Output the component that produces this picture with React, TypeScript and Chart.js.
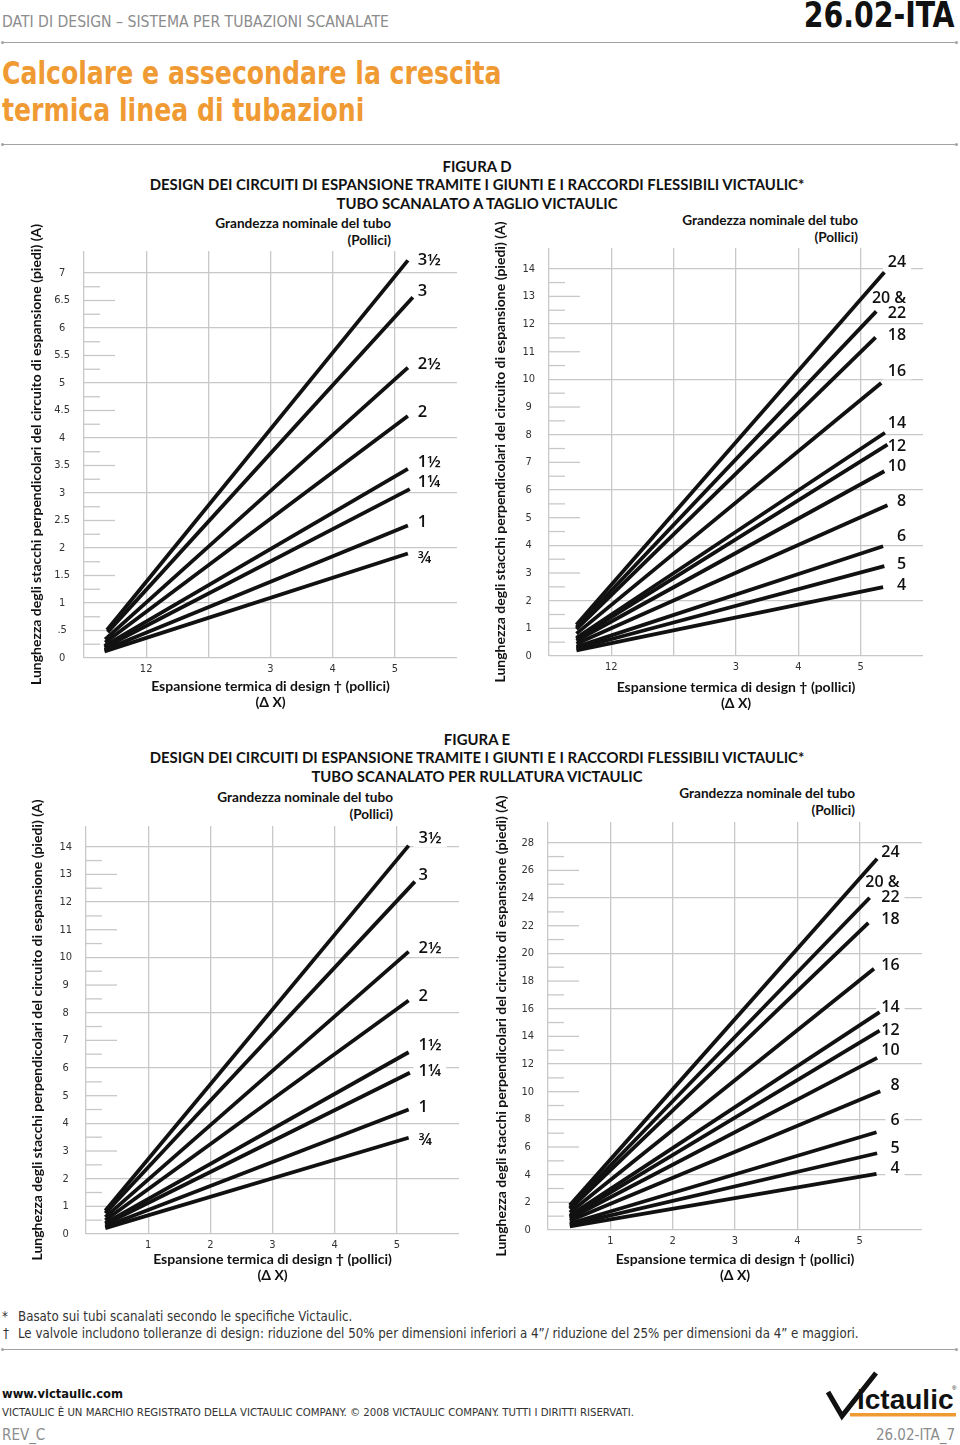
import React, { useEffect, useRef } from "react";
import { Chart, registerables } from "chart.js";

Chart.register(...registerables);

const HUM = "Lato, 'Open Sans', 'Noto Sans', sans-serif";
const LAB = "'Open Sans', Lato, 'Noto Sans', sans-serif";
const COND = "'Liberation Sans Narrow', 'Arial Narrow', 'DejaVu Sans Condensed', sans-serif";
const GRID = "#c8c8c8";
const ORANGE = "#F09A33";

// ---------- FIGURA D, left: sizes up to 3½" ----------
const sizesDL = ["3½", "3", "2½", "2", "1½", "1¼", "1", "¾"];
const startXDL = [0.37, 0.38, 0.34, 0.34, 0.33, 0.33, 0.33, 0.33];
const startYDL = [0.51, 0.47, 0.34, 0.28, 0.22, 0.19, 0.15, 0.12];
const endXDL = [5.21, 5.29, 5.21, 5.21, 5.21, 5.24, 5.21, 5.21];
const endYDL = [7.23, 6.56, 5.28, 4.4, 3.44, 3.07, 2.41, 1.9];
const yTicksDL = ["0", ".5", "1", "1.5", "2", "2.5", "3", "3.5", "4", "4.5", "5", "5.5", "6", "6.5", "7"];
const xTicksD = ["", "12", "", "3", "4", "5", ""];

// ---------- FIGURA D, right: sizes 4" to 24" ----------
const sizesDR = ["24", "20 &\n22", "18", "16", "14", "12", "10", "8", "6", "5", "4"];
const startXDR = [0.44, 0.44, 0.44, 0.44, 0.44, 0.44, 0.44, 0.44, 0.44, 0.44, 0.44];
const startYDR = [1.13, 1.04, 0.97, 0.81, 0.66, 0.62, 0.55, 0.44, 0.33, 0.27, 0.2];
const endXDR = [5.38, 5.25, 5.24, 5.33, 5.39, 5.43, 5.38, 5.43, 5.36, 5.38, 5.36];
const endYDR = [13.87, 12.46, 11.52, 9.87, 8.07, 7.64, 6.68, 5.45, 3.97, 3.25, 2.49];
const yTicksDR = ["0", "1", "2", "3", "4", "5", "6", "7", "8", "9", "10", "11", "12", "13", "14"];

// ---------- FIGURA E, left: sizes up to 3½" ----------
const sizesEL = ["3½", "3", "2½", "2", "1½", "1¼", "1", "¾"];
const startXEL = [0.31, 0.31, 0.31, 0.31, 0.31, 0.31, 0.31, 0.31];
const startYEL = [0.84, 0.75, 0.61, 0.5, 0.39, 0.35, 0.27, 0.21];
const endXEL = [5.19, 5.29, 5.19, 5.19, 5.19, 5.21, 5.19, 5.19];
const endYEL = [14.04, 12.74, 10.21, 8.44, 6.57, 5.83, 4.5, 3.48];
const yTicksEL = ["0", "1", "2", "3", "4", "5", "6", "7", "8", "9", "10", "11", "12", "13", "14"];
const xTicksE = ["", "1", "2", "3", "4", "5", ""];

// ---------- FIGURA E, right: sizes 4" to 24" ----------
const sizesER = ["24", "20 &\n22", "18", "16", "14", "12", "10", "8", "6", "5", "4"];
const startXER = [0.35, 0.35, 0.35, 0.35, 0.35, 0.35, 0.35, 0.35, 0.35, 0.35, 0.35];
const startYER = [1.78, 1.63, 1.51, 1.26, 1.04, 0.95, 0.83, 0.66, 0.47, 0.37, 0.27];
const endXER = [5.28, 5.16, 5.14, 5.23, 5.32, 5.32, 5.28, 5.33, 5.27, 5.28, 5.27];
const endYER = [26.84, 24.02, 22.21, 18.89, 15.75, 14.42, 12.45, 10.04, 7.07, 5.55, 4.06];
const yTicksER = ["0", "2", "4", "6", "8", "10", "12", "14", "16", "18", "20", "22", "24", "26", "28"];

// label vertical nudges (px) relative to each line's end
const nudgeDL = [0, -6, -3, -4, -7, -7, -3, 5];
const nudgeDR = [-10, -5, -2, -12, -9, 2, -5, -4, -10, -2, -2];
const nudgeEL = [-7, -6, -3, -4, -7, -1, -2, 3];
const nudgeER = [-6, -8, -3, -3, -5, 0, -7, -6, -12, -5, -5];

const Y_TITLE = "Lunghezza degli stacchi perpendicolari del circuito di espansione (piedi) (A)";
const X_TITLE = ["Espansione termica di design † (pollici)", "(Δ X)"];

type Spec = {
  id: string;
  sizes: string[];
  startX: number[];
  startY: number[];
  endX: number[];
  endY: number[];
  nudge: number[];
  yTicks: string[];
  xTicks: string[];
  labelX: number;
  labelAlign: "left" | "right";
  labelSize: number;
  yMax: number;
  tickStep: number;
  gridStep: number;
  canvasLeft: number;
  chartLeft: number;
  chartRight: number;
  chartTop: number;
  chartBottom: number;
  line1Y: number;
};

const PAD_TOP = 30;
const PAD_RIGHT = 12;
const XAXIS_H = 62;
const TITLE_SIZE = 14;
const TITLE_LH = 16;

const specs: Spec[] = [
  {
    id: "DL", sizes: sizesDL, startX: startXDL, startY: startYDL, endX: endXDL, endY: endYDL,
    nudge: nudgeDL, yTicks: yTicksDL, xTicks: xTicksD, labelX: 5.37, labelAlign: "left", labelSize: 16.5,
    yMax: 7.4, tickStep: 0.5, gridStep: 1,
    canvasLeft: 20, chartLeft: 84, chartRight: 457, chartTop: 251, chartBottom: 658, line1Y: 686,
  },
  {
    id: "DR", sizes: sizesDR, startX: startXDR, startY: startYDR, endX: endXDR, endY: endYDR,
    nudge: nudgeDR, yTicks: yTicksDR, xTicks: xTicksD, labelX: 5.73, labelAlign: "right", labelSize: 16,
    yMax: 14.75, tickStep: 1, gridStep: 2,
    canvasLeft: 484, chartLeft: 549, chartRight: 923, chartTop: 248, chartBottom: 656, line1Y: 687,
  },
  {
    id: "EL", sizes: sizesEL, startX: startXEL, startY: startYEL, endX: endXEL, endY: endYEL,
    nudge: nudgeEL, yTicks: yTicksEL, xTicks: xTicksE, labelX: 5.35, labelAlign: "left", labelSize: 16.5,
    yMax: 14.75, tickStep: 1, gridStep: 2,
    canvasLeft: 21, chartLeft: 86, chartRight: 459, chartTop: 826, chartBottom: 1234, line1Y: 1259,
  },
  {
    id: "ER", sizes: sizesER, startX: startXER, startY: startYER, endX: endXER, endY: endYER,
    nudge: nudgeER, yTicks: yTicksER, xTicks: xTicksE, labelX: 5.64, labelAlign: "right", labelSize: 16,
    yMax: 29.5, tickStep: 2, gridStep: 4,
    canvasLeft: 485, chartLeft: 548, chartRight: 922, chartTop: 822, chartBottom: 1230, line1Y: 1259,
  },
];

const isMult = (v: number, s: number) => Math.abs(v / s - Math.round(v / s)) < 1e-6;

function minorTicksPlugin(spec: Spec) {
  return {
    id: "minorTicks" + spec.id,
    beforeDatasetsDraw(chart: any) {
      const { ctx, chartArea } = chart;
      const y = chart.scales.y;
      const q = spec.gridStep / 4;
      const top = Math.floor(spec.yMax / spec.gridStep) * spec.gridStep;
      ctx.save();
      ctx.strokeStyle = GRID;
      ctx.lineWidth = 1.3;
      for (let k = 1; k * q < top; k++) {
        if (k % 4 === 0) continue;
        const len = k % 2 === 0 ? 31 : 16;
        const py = y.getPixelForValue(k * q);
        ctx.beginPath();
        ctx.moveTo(chartArea.left, py);
        ctx.lineTo(chartArea.left + len, py);
        ctx.stroke();
      }
      ctx.restore();
    },
  };
}

function lineLabelsPlugin(spec: Spec) {
  const LH = 15;
  const font = `600 ${spec.labelSize}px ${LAB}`;
  const layout = (chart: any) => {
    const ctx = chart.ctx;
    ctx.save();
    ctx.font = font;
    const out = spec.sizes.map((s, i) => {
      const meta = chart.getDatasetMeta(i);
      const end = meta.data[meta.data.length - 1];
      const lines = s.split("\n");
      const x = chart.scales.x.getPixelForValue(spec.labelX);
      const cy = end.y + spec.nudge[i];
      const w = Math.max(...lines.map((l) => ctx.measureText(l).width));
      const h = lines.length * LH;
      return { lines, x, cy, w, h };
    });
    ctx.restore();
    return out;
  };
  return {
    id: "lineLabels" + spec.id,
    beforeDatasetsDraw(chart: any) {
      const ctx = chart.ctx;
      ctx.save();
      ctx.fillStyle = "#ffffff";
      for (const L of layout(chart)) {
        const left = spec.labelAlign === "left" ? L.x : L.x - L.w;
        ctx.fillRect(left - 5, L.cy - L.h / 2 - 1, L.w + 10, L.h + 2);
      }
      ctx.restore();
    },
    afterDatasetsDraw(chart: any) {
      const ctx = chart.ctx;
      ctx.save();
      ctx.font = font;
      ctx.fillStyle = "#111";
      ctx.textAlign = spec.labelAlign;
      ctx.textBaseline = "middle";
      for (const L of layout(chart)) {
        L.lines.forEach((line, j) => {
          const ly = L.cy - ((L.lines.length - 1) * LH) / 2 + j * LH;
          ctx.fillText(line, L.x, ly);
        });
      }
      ctx.restore();
    },
  };
}

function ExpansionChart({ spec }: { spec: Spec }) {
  const ref = useRef<HTMLCanvasElement | null>(null);
  const yAxisW = spec.chartLeft - spec.canvasLeft;
  const cw = spec.chartRight - spec.canvasLeft + PAD_RIGHT;
  const ch = PAD_TOP + (spec.chartBottom - spec.chartTop) + XAXIS_H;
  const canvasTop = spec.chartTop - PAD_TOP;
  const titlePadBottom = XAXIS_H - (spec.line1Y - spec.chartBottom) - 1.5 * TITLE_LH;

  useEffect(() => {
    if (!ref.current) return;
    const datasets = spec.sizes.map((s, i) => ({
      label: s.replace("\n", " "),
      data: [
        { x: spec.startX[i], y: spec.startY[i] },
        { x: spec.endX[i], y: spec.endY[i] },
      ],
      borderColor: "#111",
      backgroundColor: "#111",
      borderWidth: 3.8,
      borderCapStyle: "butt",
      pointRadius: 0,
      fill: false,
      tension: 0,
    }));
    const chart = new Chart(ref.current, {
      type: "line",
      data: { datasets } as any,
      options: {
        animation: false,
        responsive: false,
        devicePixelRatio: 1,
        layout: { autoPadding: false, padding: { top: PAD_TOP, right: PAD_RIGHT, left: 0, bottom: 0 } },
        plugins: { legend: { display: false }, tooltip: { enabled: false }, title: { display: false } },
        scales: {
          x: {
            type: "linear",
            min: 0,
            max: 6,
            border: { display: false },
            grid: {
              drawTicks: false,
              lineWidth: 1.3,
              color: (c: any) => (c.tick && c.tick.value <= 5 + 1e-9 ? GRID : "rgba(0,0,0,0)"),
            },
            ticks: {
              stepSize: 1,
              padding: 5,
              autoSkip: false,
              maxRotation: 0,
              color: "#333",
              font: { family: COND, size: 11 },
              callback: (_v: any, i: number) => spec.xTicks[i] ?? "",
            },
            title: {
              display: true,
              text: X_TITLE,
              color: "#111",
              font: { family: HUM, size: TITLE_SIZE, weight: "bold", lineHeight: TITLE_LH / TITLE_SIZE },
              padding: { top: 0, bottom: titlePadBottom },
            },
            afterFit: (scale: any) => {
              scale.height = XAXIS_H;
            },
          },
          y: {
            type: "linear",
            min: 0,
            max: spec.yMax,
            border: { display: false },
            grid: {
              drawTicks: false,
              lineWidth: 1.3,
              color: (c: any) => (c.tick && isMult(c.tick.value, spec.gridStep) ? GRID : "rgba(0,0,0,0)"),
            },
            ticks: {
              stepSize: spec.tickStep,
              includeBounds: false,
              autoSkip: false,
              padding: 14,
              crossAlign: "center",
              color: "#333",
              font: { family: COND, size: 11 },
              callback: (_v: any, i: number) => spec.yTicks[i] ?? "",
            },
            title: {
              display: true,
              text: Y_TITLE,
              color: "#111",
              font: { family: HUM, size: TITLE_SIZE, weight: "bold", lineHeight: TITLE_LH / TITLE_SIZE },
              padding: { top: 16 - TITLE_LH / 2, bottom: 0 },
            },
            afterFit: (scale: any) => {
              scale.width = yAxisW;
            },
          },
        },
      } as any,
      plugins: [minorTicksPlugin(spec), lineLabelsPlugin(spec)],
    });
    return () => chart.destroy();
  }, []);

  return (
    <canvas
      ref={ref}
      width={cw}
      height={ch}
      style={{ position: "absolute", left: spec.canvasLeft, top: canvasTop, width: cw, height: ch }}
    />
  );
}

type TP = {
  x: number;
  y: number;
  align?: "left" | "right" | "center";
  size: number;
  weight?: number | string;
  color?: string;
  family?: string;
  sx?: number;
  children: React.ReactNode;
};

function T({ x, y, align = "left", size, weight = 400, color = "#111", family = HUM, sx = 1, children }: TP) {
  const lh = Math.round(size * 1.3);
  const style: React.CSSProperties = {
    position: "absolute",
    top: y - lh / 2,
    fontSize: size,
    lineHeight: `${lh}px`,
    fontWeight: weight as any,
    color,
    fontFamily: family,
    whiteSpace: "nowrap",
  };
  if (align === "left") style.left = x;
  else if (align === "right") style.right = 960 - x;
  else {
    style.left = x - 600;
    style.width = 1200;
    style.textAlign = "center";
  }
  if (sx !== 1) {
    style.transform = `scaleX(${sx})`;
    style.transformOrigin = align === "left" ? "left center" : align === "right" ? "right center" : "center center";
  }
  return <div style={style}>{children}</div>;
}

function Rule({ y }: { y: number }) {
  return (
    <>
      <div style={{ position: "absolute", left: 2, top: y - 1, width: 955, height: 0, borderTop: "1.5px solid #a3a3a3" }} />
      <div style={{ position: "absolute", left: 1, top: y - 2, width: 3, height: 3, borderRadius: 2, background: "#a3a3a3" }} />
      <div style={{ position: "absolute", left: 955, top: y - 2, width: 3, height: 3, borderRadius: 2, background: "#a3a3a3" }} />
    </>
  );
}

export default function App() {
  return (
    <div
      style={{
        position: "absolute",
        left: 0,
        top: 0,
        width: 960,
        height: 1445,
        background: "#fff",
        overflow: "hidden",
      }}
    >
      {/* Header */}
      <T x={2} y={21} size={16} family={COND} color="#8c8c8c" sx={0.975}>DATI DI DESIGN – SISTEMA PER TUBAZIONI SCANALATE</T>
      <T x={955} y={15} align="right" size={35} weight={700} family={COND} color="#111" sx={0.9}>26.02-ITA</T>
      <Rule y={43} />
      <T x={2} y={73} size={32} weight={700} family={COND} color={ORANGE} sx={0.874}>Calcolare e assecondare la crescita</T>
      <T x={2} y={110} size={32} weight={700} family={COND} color={ORANGE} sx={0.874}>termica linea di tubazioni</T>
      <Rule y={145} />

      {/* Figura D */}
      <T x={477} y={166} align="center" size={14.9} weight={700}>FIGURA D</T>
      <T x={477} y={184} align="center" size={14.9} weight={700}>DESIGN DEI CIRCUITI DI ESPANSIONE TRAMITE I GIUNTI E I RACCORDI FLESSIBILI VICTAULIC*</T>
      <T x={477} y={203} align="center" size={14.9} weight={700}>TUBO SCANALATO A TAGLIO VICTAULIC</T>
      <T x={391} y={223} align="right" size={13.6} weight={700}>Grandezza nominale del tubo</T>
      <T x={391} y={240} align="right" size={13.6} weight={700}>(Pollici)</T>
      <T x={858} y={220} align="right" size={13.6} weight={700}>Grandezza nominale del tubo</T>
      <T x={858} y={237} align="right" size={13.6} weight={700}>(Pollici)</T>
      <ExpansionChart spec={specs[0]} />
      <ExpansionChart spec={specs[1]} />

      {/* Figura E */}
      <T x={477} y={739} align="center" size={14.9} weight={700}>FIGURA E</T>
      <T x={477} y={757} align="center" size={14.9} weight={700}>DESIGN DEI CIRCUITI DI ESPANSIONE TRAMITE I GIUNTI E I RACCORDI FLESSIBILI VICTAULIC*</T>
      <T x={477} y={776} align="center" size={14.9} weight={700}>TUBO SCANALATO PER RULLATURA VICTAULIC</T>
      <T x={393} y={797} align="right" size={13.6} weight={700}>Grandezza nominale del tubo</T>
      <T x={393} y={814} align="right" size={13.6} weight={700}>(Pollici)</T>
      <T x={855} y={793} align="right" size={13.6} weight={700}>Grandezza nominale del tubo</T>
      <T x={855} y={810} align="right" size={13.6} weight={700}>(Pollici)</T>
      <ExpansionChart spec={specs[2]} />
      <ExpansionChart spec={specs[3]} />

      {/* Notes */}
      <T x={2} y={1316} size={13.2} family={COND} color="#333">*</T>
      <T x={18} y={1316} size={13.2} family={COND} color="#333">Basato sui tubi scanalati secondo le specifiche Victaulic.</T>
      <T x={3} y={1333} size={13.2} family={COND} color="#333">†</T>
      <T x={18} y={1333} size={13.2} family={COND} color="#333">
        Le valvole includono tolleranze di design: riduzione del 50% per dimensioni inferiori a 4”/ riduzione del 25% per dimensioni da 4” e maggiori.
      </T>
      <Rule y={1350} />

      {/* Footer */}
      <T x={2} y={1393} size={12.8} weight={700} family={COND} color="#111">www.victaulic.com</T>
      <T x={2} y={1412} size={11.3} family={COND} color="#333">
        VICTAULIC È UN MARCHIO REGISTRATO DELLA VICTAULIC COMPANY. © 2008 VICTAULIC COMPANY. TUTTI I DIRITTI RISERVATI.
      </T>
      <T x={2} y={1435} size={15} family={COND} color="#8c8c8c">REV_C</T>
      <T x={955} y={1435} align="right" size={15} family={COND} color="#8c8c8c">26.02-ITA_7</T>

      <svg style={{ position: "absolute", left: 824, top: 1368 }} width={136} height={54}>
        <path d="M4 24 L18 48 L52 5" stroke="#111" strokeWidth={5} fill="none" />
        <text x={33} y={41} fontFamily="'Liberation Sans', Arial, sans-serif" fontWeight="bold" fontSize={28} fill="#111">
          ictaulic
        </text>
        <rect x={26} y={45} width={106} height={3.5} fill={ORANGE} />
        <text x={128} y={22} fontFamily="'Liberation Sans', Arial, sans-serif" fontSize={6} fill="#111">®</text>
      </svg>
    </div>
  );
}
